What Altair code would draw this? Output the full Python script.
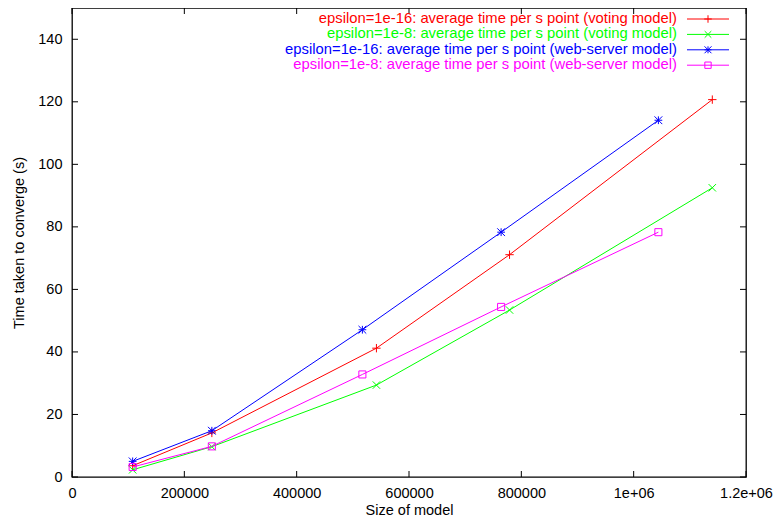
import altair as alt
import pandas as pd

# ---- data ----
series_names = [
    "epsilon=1e-16: average time per s point (voting model)",
    "epsilon=1e-8: average time per s point (voting model)",
    "epsilon=1e-16: average time per s point (web-server model)",
    "epsilon=1e-8: average time per s point (web-server model)",
]
series_colors = ["#ff0000", "#00ff00", "#0000ff", "#ff00ff"]

size_voting = [108000, 249000, 542000, 779000, 1140000]
size_web = [108000, 249000, 517000, 764000, 1044000]

time_voting_1e16 = [3.6, 14.1, 41.2, 71.1, 120.7]
time_voting_1e8 = [2.3, 9.7, 29.4, 53.4, 92.5]
time_web_1e16 = [5.0, 14.8, 47.1, 78.3, 114.1]
time_web_1e8 = [3.2, 9.8, 32.8, 54.4, 78.3]

x_ticks = [0, 200000, 400000, 600000, 800000, 1000000, 1200000]
y_ticks = [0, 20, 40, 60, 80, 100, 120, 140]

x_title = "Size of model"
y_title = "Time taken to converge (s)"

# marker shapes (gnuplot style)
PLUS = "M-1,0L1,0M0,-1L0,1"
CROSS = "M-1,-1L1,1M-1,1L1,-1"
STAR = "M-1,0L1,0M0,-1L0,1M-1,-1L1,1M-1,1L1,-1"
SQUARE = "M-1,-1L1,-1L1,1L-1,1Z"
series_shapes = [PLUS, CROSS, STAR, SQUARE]
series_sizes = [70, 55, 60, 50]

sizes = [size_voting, size_voting, size_web, size_web]
times = [time_voting_1e16, time_voting_1e8, time_web_1e16, time_web_1e8]

W, H = 674, 469
FONT = "Liberation Sans"

xscale = alt.Scale(domain=[0, 1200000], nice=False, zero=False)
yscale = alt.Scale(domain=[0, 150], nice=False, zero=False)

label_expr = ("datum.value == 1000000 ? '1e+06' : datum.value == 1200000 ? '1.2e+06' : "
              "format(datum.value, 'd')")

xaxis = alt.Axis(values=x_ticks, labelExpr=label_expr, ticks=False,
                 grid=False, domain=False, labelPadding=9,
                 titlePadding=4, labelFontSize=14.5, titleFontSize=14.5,
                 labelFont=FONT, titleFont=FONT, titleFontWeight="normal",
                 labelColor="#000", titleColor="#000", labelFlush=False)
yaxis = alt.Axis(values=y_ticks, ticks=False, grid=False, domain=False,
                 labelPadding=10, titlePadding=11, labelFontSize=14.5,
                 titleFontSize=14.5, labelFont=FONT, titleFont=FONT,
                 titleFontWeight="normal", labelColor="#000",
                 titleColor="#000", format="d")


def X(field):
    return alt.X(field, scale=xscale, title=x_title, axis=xaxis)


def Y(field):
    return alt.Y(field, scale=yscale, title=y_title, axis=yaxis)


layers = []
for i in range(4):
    df = pd.DataFrame({"size": sizes[i], "time": times[i], "series": series_names[i]})
    line = alt.Chart(df).mark_line(color=series_colors[i], strokeWidth=1).encode(
        x=X("size:Q"), y=Y("time:Q"))
    pts = alt.Chart(df).mark_point(shape=series_shapes[i], color=series_colors[i], filled=False,
                                   size=series_sizes[i], strokeWidth=1, opacity=1).encode(
        x=X("size:Q"), y=Y("time:Q"))
    layers += [line, pts]

# inward ticks on all four sides (gnuplot style)
xt = pd.DataFrame({"size": x_ticks})
yt = pd.DataFrame({"time": y_ticks})
TL = 6
tick_layers = [
    alt.Chart(xt).mark_rule(color="#000", strokeWidth=1).encode(
        x=X("size:Q"), y=alt.value(H), y2=alt.value(H - TL)),
    alt.Chart(xt).mark_rule(color="#000", strokeWidth=1).encode(
        x=X("size:Q"), y=alt.value(0), y2=alt.value(TL)),
    alt.Chart(yt).mark_rule(color="#000", strokeWidth=1).encode(
        y=Y("time:Q"), x=alt.value(0), x2=alt.value(TL)),
    alt.Chart(yt).mark_rule(color="#000", strokeWidth=1).encode(
        y=Y("time:Q"), x=alt.value(W), x2=alt.value(W - TL)),
]

# legend (top right, text right-aligned, sample line + marker on the right)
leg_layers = []
leg_text_x = 605
leg_line_x1, leg_line_x2 = 615, 657
leg_y0, leg_dy = 11, 15.4
for i in range(4):
    ly = leg_y0 + i * leg_dy
    ld = pd.DataFrame({"label": [series_names[i]]})
    leg_layers.append(alt.Chart(ld).mark_text(align="right", baseline="middle", fontSize=14.8,
                                              font=FONT, color=series_colors[i]).encode(
        text="label:N", x=alt.value(leg_text_x), y=alt.value(ly)))
    leg_layers.append(alt.Chart(ld).mark_rule(color=series_colors[i], strokeWidth=1).encode(
        x=alt.value(leg_line_x1), x2=alt.value(leg_line_x2), y=alt.value(ly)))
    leg_layers.append(alt.Chart(ld).mark_point(shape=series_shapes[i], color=series_colors[i],
                                               filled=False, size=series_sizes[i] * 0.8,
                                               strokeWidth=1, opacity=1).encode(
        x=alt.value((leg_line_x1 + leg_line_x2) / 2), y=alt.value(ly)))

chart = alt.layer(*layers, *tick_layers, *leg_layers).properties(
    width=W, height=H,
    background="#ffffff",
    autosize=alt.AutoSizeParams(type="none"),
    padding={"left": 64, "top": 0, "right": 28, "bottom": 43},
).configure_view(stroke="#000000", strokeWidth=1.3)

chart.save("out.html", embed_options={"renderer": "svg", "actions": False})
